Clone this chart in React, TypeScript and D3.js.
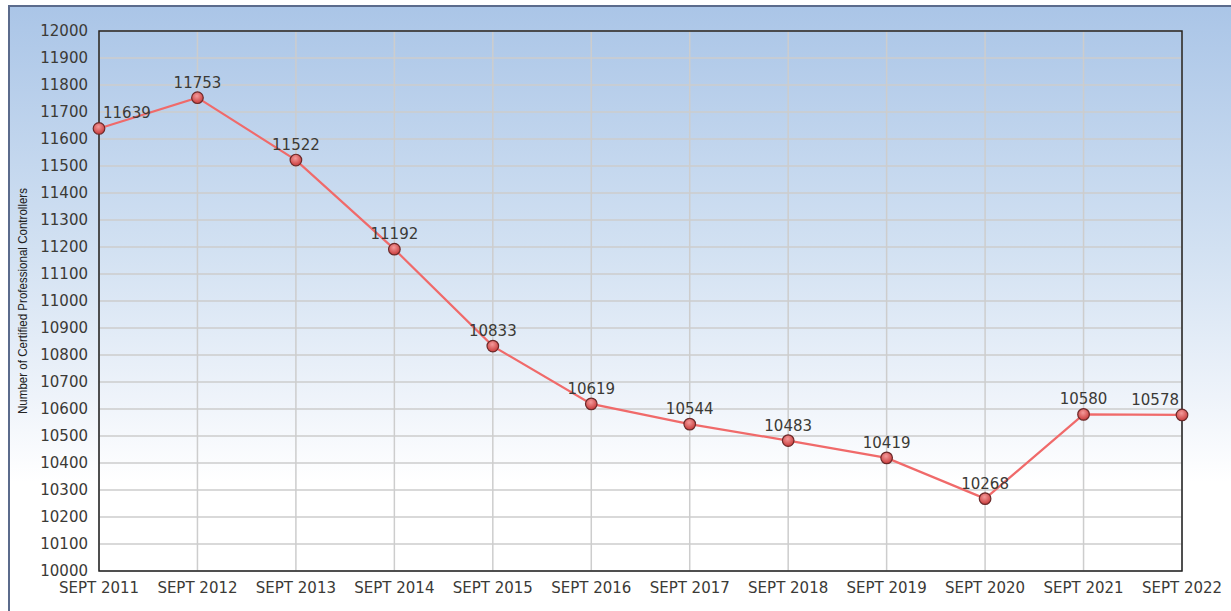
import React, { useEffect, useRef } from "react";
import * as d3 from "d3";

const years = [
  "SEPT 2011", "SEPT 2012", "SEPT 2013", "SEPT 2014", "SEPT 2015", "SEPT 2016",
  "SEPT 2017", "SEPT 2018", "SEPT 2019", "SEPT 2020", "SEPT 2021", "SEPT 2022"
];
const controllers = [
  11639, 11753, 11522, 11192, 10833, 10619, 10544, 10483, 10419, 10268, 10580, 10578
];
const yTicks = d3.range(10000, 12001, 100);
const yTitle = "Number of Certified Professional Controllers";

const W = 1231;
const H = 611;
const plot = { left: 99, right: 1182, top: 31, bottom: 571 };
const font = "'DejaVu Sans', Verdana, sans-serif";
const textColor = "#3b3a36";

export default function App() {
  const ref = useRef<SVGSVGElement>(null);

  useEffect(() => {
    const svg = d3.select(ref.current);
    svg.selectAll("*").remove();

    const defs = svg.append("defs");
    const bg = defs
      .append("linearGradient")
      .attr("id", "bg")
      .attr("x1", 0).attr("y1", 0).attr("x2", 0).attr("y2", 1);
    bg.append("stop").attr("offset", "0%").attr("stop-color", "#aac5e7");
    bg.append("stop").attr("offset", "40%").attr("stop-color", "#d2e1f2");
    bg.append("stop").attr("offset", "64%").attr("stop-color", "#eef3fa");
    bg.append("stop").attr("offset", "78%").attr("stop-color", "#ffffff");
    bg.append("stop").attr("offset", "100%").attr("stop-color", "#ffffff");

    const dot = defs
      .append("radialGradient")
      .attr("id", "dot")
      .attr("cx", "45%").attr("cy", "35%").attr("r", "65%");
    dot.append("stop").attr("offset", "0%").attr("stop-color", "#f49a9a");
    dot.append("stop").attr("offset", "100%").attr("stop-color", "#c83a3a");

    // panel background with border on left and top
    svg.append("rect")
      .attr("x", 8).attr("y", 5)
      .attr("width", W).attr("height", H)
      .attr("fill", "url(#bg)");
    svg.append("path")
      .attr("d", `M9,${H} V6 H${W}`)
      .attr("fill", "none")
      .attr("stroke", "#5b6b8c")
      .attr("stroke-width", 2);

    const x = d3.scalePoint<string>()
      .domain(years)
      .range([plot.left, plot.right]);
    const y = d3.scaleLinear()
      .domain([10000, 12000])
      .range([plot.bottom, plot.top]);

    // grid
    const grid = svg.append("g")
      .attr("stroke", "#cdcdcd")
      .attr("stroke-width", 1.5);
    grid.selectAll(".h")
      .data(yTicks)
      .join("line")
      .attr("x1", plot.left).attr("x2", plot.right)
      .attr("y1", d => y(d)).attr("y2", d => y(d));
    grid.selectAll(".v")
      .data(years)
      .join("line")
      .attr("x1", d => x(d)!).attr("x2", d => x(d)!)
      .attr("y1", plot.top).attr("y2", plot.bottom);

    // frame
    svg.append("rect")
      .attr("x", plot.left).attr("y", plot.top)
      .attr("width", plot.right - plot.left)
      .attr("height", plot.bottom - plot.top)
      .attr("fill", "none")
      .attr("stroke", "#222")
      .attr("stroke-width", 1.5);

    // y axis labels
    svg.append("g")
      .attr("font-family", font)
      .attr("font-size", 15)
      .attr("fill", textColor)
      .attr("text-anchor", "end")
      .selectAll("text")
      .data(yTicks)
      .join("text")
      .attr("x", plot.left - 11)
      .attr("y", d => y(d))
      .attr("dy", "0.36em")
      .text(d => d);

    // x axis labels
    svg.append("g")
      .attr("font-family", font)
      .attr("font-size", 15)
      .attr("fill", textColor)
      .attr("text-anchor", "middle")
      .selectAll("text")
      .data(years)
      .join("text")
      .attr("x", d => x(d)!)
      .attr("y", 593)
      .text(d => d);

    // y title
    svg.append("text")
      .attr("transform", `translate(27,${(plot.top + plot.bottom) / 2}) rotate(-90)`)
      .attr("text-anchor", "middle")
      .attr("font-family", "'Liberation Sans Narrow', 'Arial Narrow', 'Liberation Sans', sans-serif")
      .attr("font-size", 13)
      .attr("textLength", 226)
      .attr("lengthAdjust", "spacingAndGlyphs")
      .attr("fill", "#222")
      .text(yTitle);

    // line
    const line = d3.line<number>()
      .x((d, i) => x(years[i])!)
      .y(d => y(d));
    svg.append("path")
      .datum(controllers)
      .attr("d", line)
      .attr("fill", "none")
      .attr("stroke", "#f06a6a")
      .attr("stroke-width", 2.2);

    svg.append("g")
      .selectAll("circle")
      .data(controllers)
      .join("circle")
      .attr("cx", (d, i) => x(years[i])!)
      .attr("cy", d => y(d))
      .attr("r", 5.8)
      .attr("fill", "url(#dot)")
      .attr("stroke", "#6b2a2a")
      .attr("stroke-width", 1.2);

    // value labels, kept inside the plot frame
    const labels = svg.append("g")
      .attr("font-family", font)
      .attr("font-size", 15)
      .attr("fill", textColor)
      .attr("text-anchor", "middle")
      .selectAll("text")
      .data(controllers)
      .join("text")
      .attr("y", d => y(d) - 10)
      .text(d => d);
    labels.each(function (d, i) {
      const el = this as SVGTextElement;
      const w = el.getComputedTextLength();
      const cx = Math.max(plot.left + 4 + w / 2, Math.min(plot.right - 3 - w / 2, x(years[i])!));
      d3.select(el).attr("x", cx);
    });
  }, []);

  return (
    <svg
      ref={ref}
      width={W}
      height={H}
      style={{ position: "fixed", left: 0, top: 0, background: "#fff" }}
    />
  );
}
